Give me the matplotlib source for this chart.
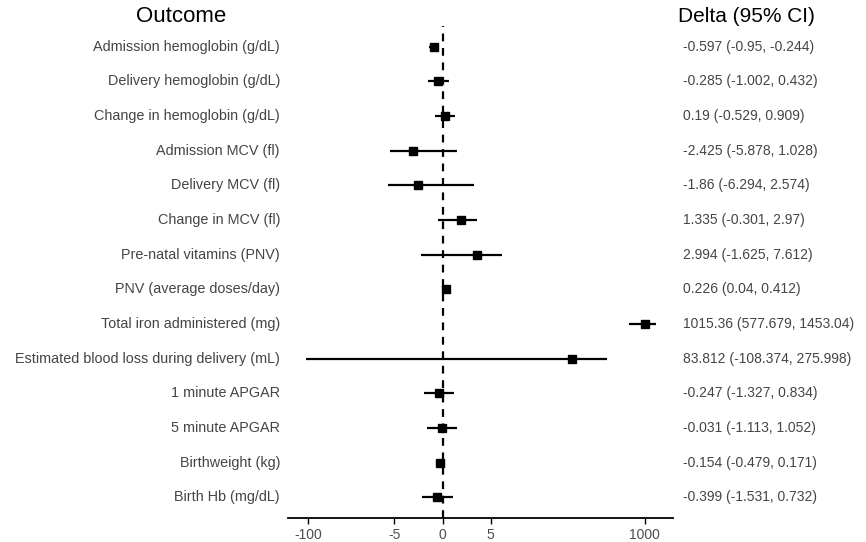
import numpy as np
import matplotlib
matplotlib.use("Agg")
import matplotlib.pyplot as plt

plt.rcParams['font.family'] = ['Liberation Sans', 'DejaVu Sans']

# data
outcomes = ["Admission hemoglobin (g/dL)", "Delivery hemoglobin (g/dL)", "Change in hemoglobin (g/dL)",
            "Admission MCV (fl)", "Delivery MCV (fl)", "Change in MCV (fl)", "Pre-natal vitamins (PNV)",
            "PNV (average doses/day)", "Total iron administered (mg)",
            "Estimated blood loss during delivery (mL)", "1 minute APGAR", "5 minute APGAR",
            "Birthweight (kg)", "Birth Hb (mg/dL)"]
delta = [-0.597, -0.285, 0.19, -2.425, -1.86, 1.335, 2.994, 0.226, 1015.36, 83.812, -0.247, -0.031, -0.154, -0.399]
lower = [-0.95, -1.002, -0.529, -5.878, -6.294, -0.301, -1.625, 0.04, 577.679, -108.374, -1.327, -1.113, -0.479, -1.531]
upper = [-0.244, 0.432, 0.909, 1.028, 2.574, 2.97, 7.612, 0.412, 1453.04, 275.998, 0.834, 1.052, 0.171, 0.732]
ci_text = ["-0.597 (-0.95, -0.244)", "-0.285 (-1.002, 0.432)", "0.19 (-0.529, 0.909)",
           "-2.425 (-5.878, 1.028)", "-1.86 (-6.294, 2.574)", "1.335 (-0.301, 2.97)",
           "2.994 (-1.625, 7.612)", "0.226 (0.04, 0.412)", "1015.36 (577.679, 1453.04)",
           "83.812 (-108.374, 275.998)", "-0.247 (-1.327, 0.834)", "-0.031 (-1.113, 1.052)",
           "-0.154 (-0.479, 0.171)", "-0.399 (-1.531, 0.732)"]
xticks = [-100, -5, 0, 5, 1000]

n = len(outcomes)
ypos = np.arange(n, 0, -1)

# pseudo-log scale: asinh(x/2)
fwd = lambda x: np.arcsinh(np.asarray(x) / 2)
inv = lambda y: 2 * np.sinh(np.asarray(y))

fig = plt.figure(figsize=(8.66, 5.42), dpi=100)
ax = fig.add_axes([288 / 866, 1 - 518 / 542, (673 - 288) / 866, (518 - 26) / 542])
ax.set_xscale("function", functions=(fwd, inv))

ax.axvline(0, color="black", linestyle=(0, (3.5, 3)), linewidth=1.6, zorder=1)
ax.hlines(ypos, lower, upper, color="black", linewidth=1.6, zorder=2)
ax.plot(delta, ypos, "s", color="black", markersize=6.4, zorder=3)

lo_t, hi_t = fwd(min(lower)), fwd(max(upper))
pad = (hi_t - lo_t) * 0.05
ax.set_xlim(inv(lo_t - pad), inv(hi_t + pad))
ax.set_ylim(0.4, n + 0.6)

ax.set_xticks(xticks)
ax.set_xticklabels([str(t) for t in xticks])
ax.xaxis.set_minor_locator(matplotlib.ticker.NullLocator())
ax.tick_params(axis="x", length=4, width=1, colors="black", labelcolor="#4d4d4d", labelsize=10, pad=3)
ax.set_yticks([])
for s in ["top", "right", "left"]:
    ax.spines[s].set_visible(False)
ax.spines["bottom"].set_linewidth(1.3)

# left labels and right CI text
for y, lab, txt in zip(ypos, outcomes, ci_text):
    yf = fig.transFigure.inverted().transform(ax.transData.transform((0, y)))[1]
    fig.text(280 / 866, yf, lab, ha="right", va="center", fontsize=10.4, color="#454545")
    fig.text(683 / 866, yf, txt, ha="left", va="center", fontsize=10, color="#454545")

fig.text(181 / 866, 1 - 17 / 542, "Outcome", ha="center", va="center", fontsize=16, color="black")
fig.text(678 / 866, 1 - 17 / 542, "Delta (95% CI)", ha="left", va="center", fontsize=15, color="black")

fig.savefig("out.png", dpi=100)
